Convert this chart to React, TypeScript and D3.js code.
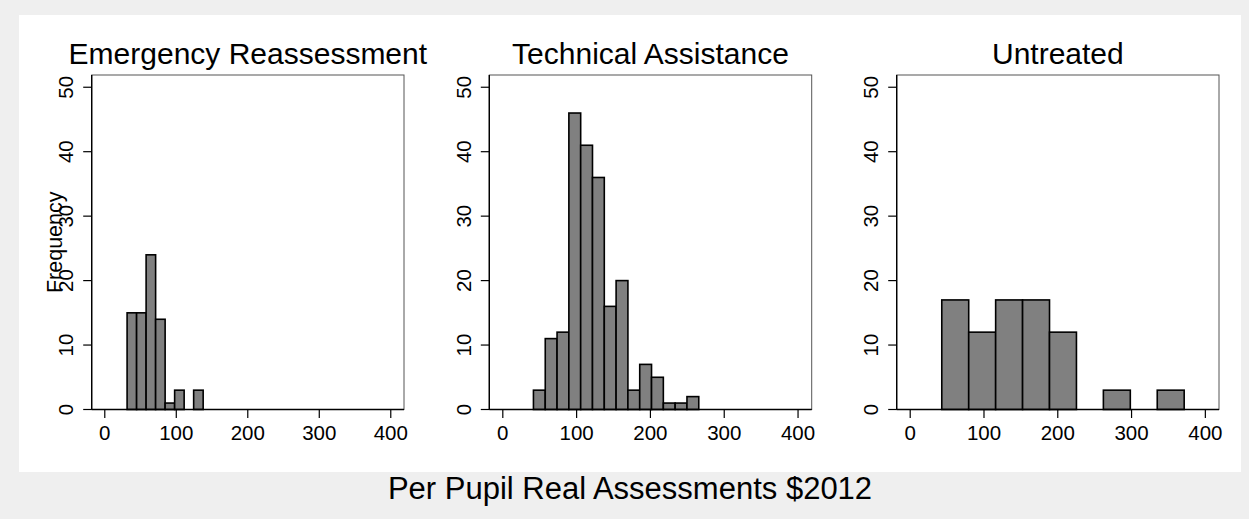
import React from "react";
import * as d3 from "d3";

// ---- data ----
const panelTitles = ["Emergency Reassessment", "Technical Assistance", "Untreated"];

const erEdges = [31.2, 44.5, 57.8, 71.1, 84.4, 97.7, 111.0, 124.3, 137.6];
const erCounts = [15, 15, 24, 14, 1, 3, 0, 3];

const taEdges = [41.5, 57.5, 73.5, 89.5, 105.5, 121.5, 137.5, 153.5, 169.5, 185.5, 201.5, 217.5, 233.5, 249.5, 265.5];
const taCounts = [3, 11, 12, 46, 41, 36, 16, 20, 3, 7, 5, 1, 1, 2];

const utEdges = [42.8, 79.3, 115.8, 152.3, 188.8, 225.3, 261.8, 298.3, 334.8, 371.3];
const utCounts = [17, 12, 17, 17, 12, 0, 3, 0, 3];

const xTicks = [0, 100, 200, 300, 400];
const yTicks = [0, 10, 20, 30, 40, 50];
const xDomain = [-18.3, 418.5];
const yDomain = [0, 51.9];

const yLabel = "Frequency";
const xLabel = "Per Pupil Real Assessments $2012";

// ---- layout ----
const W = 1249;
const H = 519;
const FONT = "'Liberation Sans', Arial, Helvetica, sans-serif";
const plotTop = 75;
const plotBottom = 409.5;
const panelFrames = [
  [91.7, 404],
  [489.3, 811.7],
  [896.7, 1219],
];

const panels = [
  { title: panelTitles[0], edges: erEdges, counts: erCounts },
  { title: panelTitles[1], edges: taEdges, counts: taCounts },
  { title: panelTitles[2], edges: utEdges, counts: utCounts },
];

function Panel({ idx }: { idx: number }) {
  const p = panels[idx];
  const [x0, x1] = panelFrames[idx];
  const x = d3.scaleLinear().domain(xDomain).range([x0, x1]);
  const y = d3.scaleLinear().domain(yDomain).range([plotBottom, plotTop]);
  const bins = p.counts.map((c, i) => ({ a: p.edges[i], b: p.edges[i + 1], c }));
  return (
    <g>
      <rect x={x0} y={plotTop} width={x1 - x0} height={plotBottom - plotTop} fill="#fff" stroke="#555" strokeWidth={1} />
      {bins
        .filter((b) => b.c > 0)
        .map((b, i) => (
          <rect
            key={i}
            x={x(b.a)}
            y={y(b.c)}
            width={x(b.b) - x(b.a)}
            height={y(0) - y(b.c)}
            fill="#808080"
            stroke="#000"
            strokeWidth={1.6}
          />
        ))}
      {/* axis lines */}
      <line x1={x0} x2={x0} y1={plotTop} y2={plotBottom} stroke="#000" strokeWidth={1.4} />
      <line x1={x0} x2={x1} y1={plotBottom} y2={plotBottom} stroke="#000" strokeWidth={1.4} />
      {yTicks.map((t) => (
        <g key={"y" + t}>
          <line x1={x0 - 8.5} x2={x0} y1={y(t)} y2={y(t)} stroke="#000" strokeWidth={1.2} />
          <text
            transform={`translate(${x0 - 18.3},${y(t)}) rotate(-90)`}
            textAnchor="middle"
            fontFamily={FONT}
            fontSize={20.5}
            fill="#000"
          >
            {t}
          </text>
        </g>
      ))}
      {xTicks.map((t) => (
        <g key={"x" + t}>
          <line x1={x(t)} x2={x(t)} y1={plotBottom} y2={plotBottom + 8.5} stroke="#000" strokeWidth={1.2} />
          <text x={x(t)} y={440} textAnchor="middle" fontFamily={FONT} fontSize={20.5} fill="#000">
            {t}
          </text>
        </g>
      ))}
      <text x={(x0 + x1) / 2} y={64} textAnchor="middle" fontFamily={FONT} fontSize={30} fill="#000">
        {p.title}
      </text>
    </g>
  );
}

export default function App() {
  return (
    <svg
      width={W}
      height={H}
      style={{ position: "absolute", left: 0, top: 0, display: "block" }}
    >
      <rect x={0} y={0} width={W} height={H} fill="#efefef" />
      <rect x={19} y={15} width={1222} height={457} fill="#fff" />
      {panels.map((_, i) => (
        <Panel key={i} idx={i} />
      ))}
      <text
        transform={`translate(62,${(plotTop + plotBottom) / 2}) rotate(-90)`}
        textAnchor="middle"
        fontFamily={FONT}
        fontSize={21.5}
        fill="#000"
      >
        {yLabel}
      </text>
      <text x={630} y={499} textAnchor="middle" fontFamily={FONT} fontSize={31} fill="#000">
        {xLabel}
      </text>
    </svg>
  );
}
